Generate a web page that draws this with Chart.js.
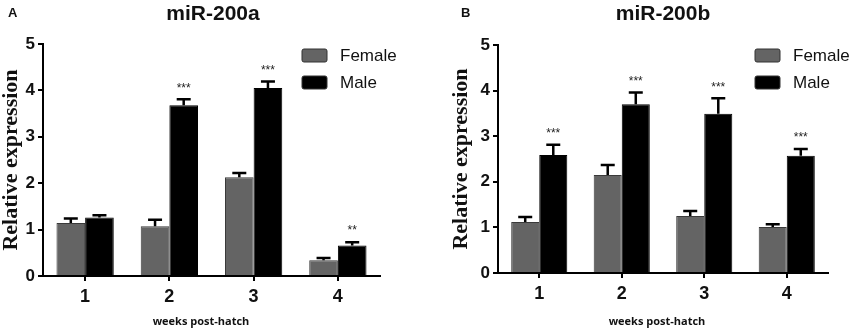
<!DOCTYPE html>
<html>
<head>
<meta charset="utf-8">
<script src="https://cdn.jsdelivr.net/npm/chart.js@4"></script>
<style>
  body { margin: 0; background: #fff; }
  #wrap { position: relative; width: 851px; height: 329px; overflow: hidden; }
  .panel { position: absolute; top: 0; height: 329px; }
  .lbl { position: absolute; font-family: "Liberation Sans", Arial, sans-serif; font-weight: bold; color: #111; white-space: nowrap; }
  .letter { font-size: 13px; top: 5px; }
  .ttl { font-size: 21px; top: 1px; transform: translateX(-50%); }
  .xttl { font-family: "Open Sans", "Liberation Sans", Arial, sans-serif; font-size: 11px; top: 313px; transform: translateX(-50%); }
</style>
</head>
<body>
<div id="wrap">
  <div class="panel" style="left:0;width:425px"><canvas id="chartA" width="425" height="329"></canvas></div>
  <div class="panel" style="left:425px;width:426px"><canvas id="chartB" width="426" height="329"></canvas></div>
  <div class="lbl letter" style="left:8px">A</div>
  <div class="lbl ttl" style="left:213px">miR-200a</div>
  <div class="lbl xttl" style="left:201px">weeks post-hatch</div>
  <div class="lbl letter" style="left:461px">B</div>
  <div class="lbl ttl" style="left:663px">miR-200b</div>
  <div class="lbl xttl" style="left:657px">weeks post-hatch</div>
</div>
<script>
// data
const weeks = ['1', '2', '3', '4'];

const aFemale = [1.14, 1.07, 2.13, 0.34];
const aFemaleErr = [0.10, 0.14, 0.09, 0.05];
const aMale = [1.26, 3.68, 4.05, 0.66];
const aMaleErr = [0.05, 0.13, 0.14, 0.07];
const aSig = ['', '***', '***', '**'];

const bFemale = [1.12, 2.15, 1.25, 1.01];
const bFemaleErr = [0.11, 0.22, 0.11, 0.06];
const bMale = [2.59, 3.70, 3.49, 2.57];
const bMaleErr = [0.22, 0.26, 0.34, 0.15];
const bSig = ['***', '***', '***', '***'];

const femaleColor = '#646464';
const maleColor = '#000000';

// upper error whiskers + significance stars
const errorBars = {
    id: 'errorBars',
    afterDatasetsDraw(chart) {
        const ctx = chart.ctx;
        const y = chart.scales.y;
        ctx.save();
        chart.data.datasets.forEach(function (ds, di) {
            const meta = chart.getDatasetMeta(di);
            meta.data.forEach(function (bar, i) {
                const top = y.getPixelForValue(ds.data[i] + ds.errors[i]);
                ctx.strokeStyle = '#000';
                ctx.lineWidth = 2.5;
                ctx.beginPath();
                ctx.moveTo(bar.x, bar.y);
                ctx.lineTo(bar.x, top);
                ctx.moveTo(bar.x - 7, top);
                ctx.lineTo(bar.x + 7, top);
                ctx.stroke();
                if (ds.sig && ds.sig[i]) {
                    ctx.fillStyle = '#222';
                    ctx.font = '12px "Liberation Sans", Arial';
                    ctx.textAlign = 'center';
                    ctx.textBaseline = 'middle';
                    ctx.fillText(ds.sig[i], bar.x, top - 11);
                }
            });
        });
        ctx.restore();
    }
};

// legend drawn inside the plot, top right
const boxLegend = {
    id: 'boxLegend',
    afterDraw(chart, args, opts) {
        const ctx = chart.ctx;
        ctx.save();
        chart.data.datasets.forEach(function (ds, i) {
            const yy = opts.y + i * 27;
            ctx.fillStyle = ds.backgroundColor;
            ctx.strokeStyle = '#333';
            ctx.lineWidth = 1;
            ctx.beginPath();
            ctx.roundRect(opts.x, yy, 25, 13, 2);
            ctx.fill();
            ctx.stroke();
            ctx.fillStyle = '#111';
            ctx.font = '17px "Liberation Sans", Arial';
            ctx.textAlign = 'left';
            ctx.textBaseline = 'middle';
            ctx.fillText(ds.label, opts.x + 38, yy + 7);
        });
        ctx.restore();
    }
};

const makeChart = function (el, female, femaleErr, male, maleErr, sig, lay) {
    return new Chart(el, {
        type: 'bar',
        data: {
            labels: weeks,
            datasets: [{
                label: 'Female',
                data: female,
                errors: femaleErr,
                backgroundColor: femaleColor,
                borderColor: '#3a3a3a',
                borderWidth: 1
            }, {
                label: 'Male',
                data: male,
                errors: maleErr,
                sig: sig,
                backgroundColor: maleColor,
                borderColor: '#000',
                borderWidth: 1
            }]
        },
        options: {
            responsive: false,
            animation: false,
            events: [],
            layout: { padding: { left: lay.left, right: lay.right, top: lay.top, bottom: 0 } },
            datasets: { bar: { categoryPercentage: 0.68, barPercentage: 1 } },
            plugins: {
                legend: { display: false },
                tooltip: { enabled: false },
                boxLegend: { x: lay.legendX, y: 49 }
            },
            scales: {
                x: {
                    grid: { offset: false, drawOnChartArea: false, tickLength: 5, color: '#000', lineWidth: 2 },
                    border: { color: '#000', width: 2 },
                    ticks: { color: '#111', padding: 5, font: { family: '"Liberation Sans", Arial', size: 18, weight: 'bold' } },
                    afterFit: function (s) { s.height = lay.xHeight; }
                },
                y: {
                    min: 0, max: 5,
                    grid: { drawOnChartArea: false, tickLength: 5, color: '#000', lineWidth: 2 },
                    border: { color: '#000', width: 2 },
                    ticks: { stepSize: 1, color: '#111', padding: 3, font: { family: '"Liberation Sans", Arial', size: 17, weight: 'bold' } },
                    title: {
                        display: true, text: 'Relative expression', color: '#111',
                        padding: { top: 0, bottom: 0 },
                        font: { family: '"Liberation Serif", "Times New Roman", serif', size: 22, weight: 'bold', lineHeight: 1 }
                    },
                    afterFit: function (s) { s.width = lay.yWidth; }
                }
            }
        },
        plugins: [errorBars, boxLegend]
    });
};

const chartA = makeChart(document.getElementById('chartA'), aFemale, aFemaleErr, aMale, aMaleErr, aSig,
    { left: 0, right: 45, top: 44, yWidth: 43, xHeight: 53, legendX: 302 });
const chartB = makeChart(document.getElementById('chartB'), bFemale, bFemaleErr, bMale, bMaleErr, bSig,
    { left: 25, right: 23, top: 45, yWidth: 48, xHeight: 56, legendX: 330 });
</script>
</body>
</html>
